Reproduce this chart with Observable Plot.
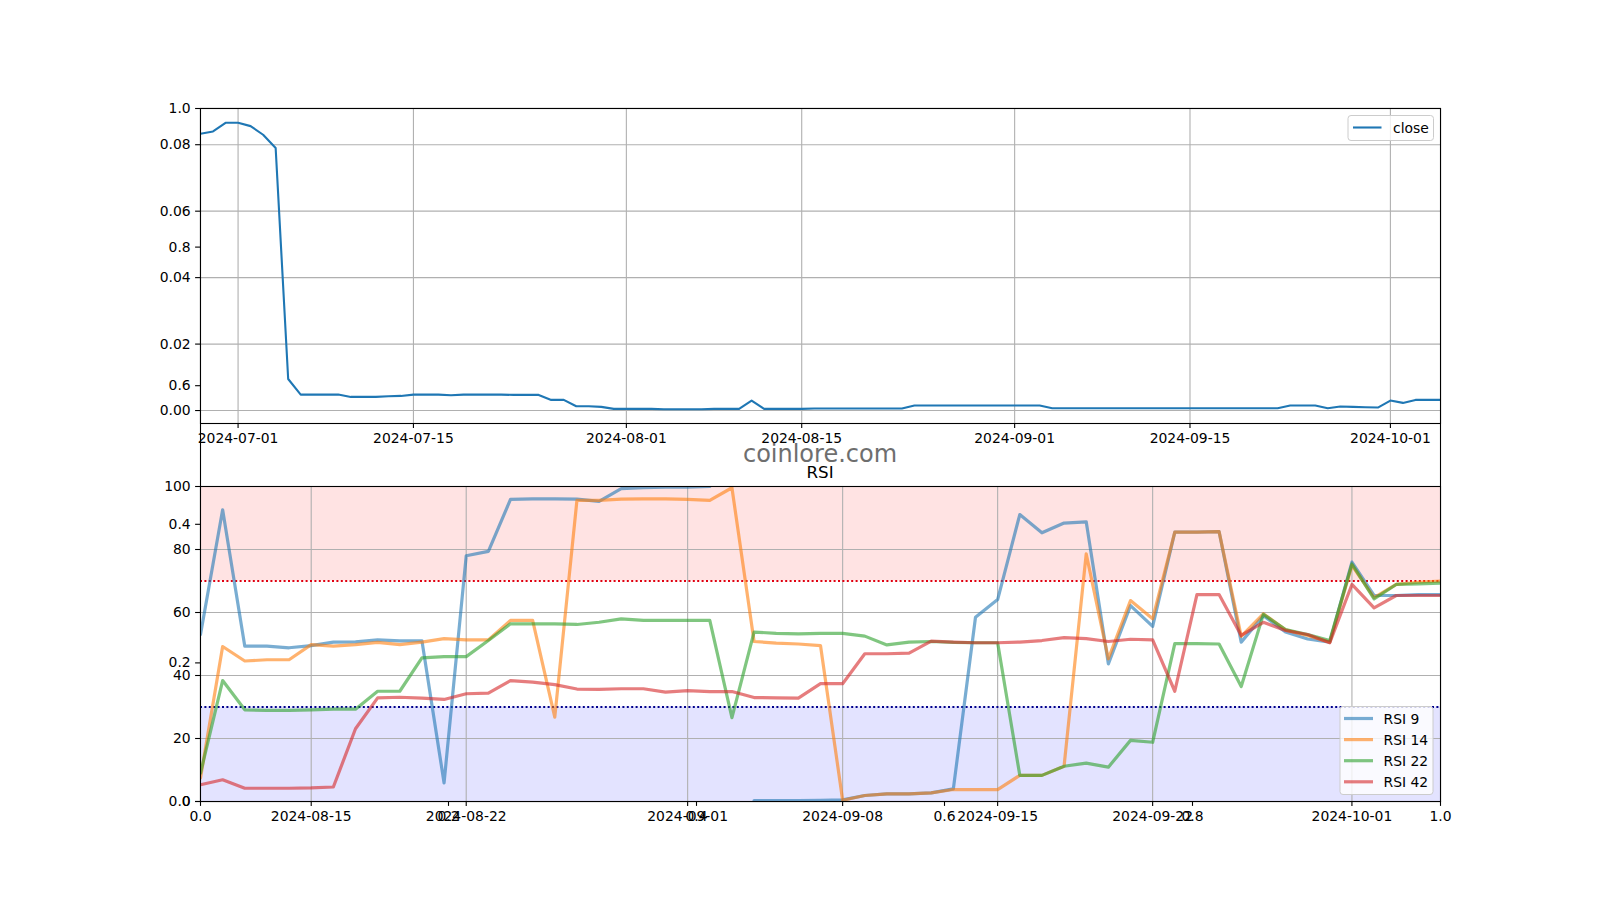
<!DOCTYPE html>
<html><head><meta charset="utf-8">
<script src="https://cdn.jsdelivr.net/npm/d3@7"></script>
<script src="https://cdn.jsdelivr.net/npm/@observablehq/plot@0.6"></script>
<style>
html,body{margin:0;padding:0;background:#fff;}
#chart{position:relative;width:1600px;height:900px;font-family:"DejaVu Sans",sans-serif;}
#chart svg{position:absolute;left:0;top:0;}
</style></head><body><div id="chart"></div>
<script>
// ---------- data ----------
const closeStart = "2024-06-28";
const closeValues = [
  0.0833,0.0840,0.0866,0.0866,0.0856,0.0830,0.0790,0.0095,0.0048,0.0048,
  0.0048,0.0048,0.0041,0.0041,0.0041,0.0043,0.0044,0.0048,0.0048,0.0048,
  0.0046,0.0048,0.0048,0.0048,0.0048,0.0047,0.0047,0.0047,0.0032,0.0032,
  0.0013,0.0013,0.0011,0.0005,0.0005,0.0005,0.0005,0.0004,0.0004,0.0004,
  0.0004,0.0005,0.0005,0.0005,0.0030,0.0005,0.0005,0.0005,0.0005,0.0006,
  0.0006,0.0006,0.0006,0.0006,0.0006,0.0006,0.0006,0.0015,0.0015,0.0015,
  0.0015,0.0015,0.0015,0.0015,0.0015,0.0015,0.0015,0.0015,0.0007,0.0007,
  0.0007,0.0007,0.0007,0.0007,0.0007,0.0007,0.0007,0.0007,0.0007,0.0007,
  0.0007,0.0007,0.0007,0.0007,0.0007,0.0007,0.0007,0.0015,0.0015,0.0015,
  0.0007,0.0012,0.0011,0.0010,0.0009,0.0030,0.0023,0.0032,0.0032,0.0032
];
const rsiStart = "2024-08-10";
const rsi9 = [
  53.0,92.6,49.3,49.3,48.8,49.5,50.6,50.7,51.3,51.0,
  51.0,5.9,78.0,79.4,95.9,96.1,96.1,96.0,95.3,99.3,
  99.6,99.8,99.8,100,null,0.3,0.3,0.3,0.4,0.5,
  1.9,2.4,2.4,2.75,4.0,58.5,64.1,91.1,85.3,88.4,
  88.8,43.7,62.2,55.6,85.5,85.5,85.7,50.6,59.0,53.8,
  51.6,50.6,76.0,65.4,65.4,65.7,65.7
];
const rsi14 = [
  7.5,49.2,44.6,45.0,45.0,49.8,49.3,49.8,50.5,49.8,
  50.6,51.7,51.3,51.3,57.5,57.5,26.8,95.6,95.6,96.0,
  96.1,96.1,95.9,95.6,99.6,50.8,50.3,50.0,49.5,0.4,
  1.9,2.4,2.4,2.75,3.8,3.8,3.8,8.3,8.3,11.2,
  78.6,45.3,63.8,58.0,85.5,85.5,85.7,52.4,59.6,54.5,
  52.7,50.6,75.0,64.7,68.9,69.6,70.0
];
const rsi22 = [
  9.0,38.4,29.1,28.9,28.9,29.1,29.3,29.3,35.0,35.0,
  45.6,46.0,46.0,51.1,56.4,56.4,56.4,56.2,56.9,58.0,
  57.5,57.5,57.5,57.5,26.6,53.8,53.4,53.2,53.4,53.4,
  52.5,49.7,50.6,50.8,50.5,50.4,50.4,8.3,8.3,11.2,
  12.2,10.9,19.4,18.8,50.1,50.1,50.0,36.5,59.4,54.6,
  53.0,51.1,75.4,64.3,68.9,69.1,69.3
];
const rsi42 = [
  5.3,6.9,4.2,4.2,4.2,4.3,4.6,23.1,32.9,33.1,
  32.8,32.4,34.2,34.4,38.4,37.9,37.1,35.7,35.6,35.8,
  35.8,34.7,35.2,34.9,34.9,33.0,32.9,32.8,37.4,37.4,
  46.9,46.9,47.1,50.9,50.6,50.4,50.4,50.6,51.1,52.0,
  51.7,50.8,51.5,51.3,35.0,65.7,65.7,52.7,56.9,54.3,
  53.0,50.4,68.9,61.5,65.4,65.4,65.4
];
const rsiNames = ["RSI 9","RSI 14","RSI 22","RSI 42"];
const rsiColors = ["#1f77b4","#ff7f0e","#2ca02c","#d62728"];
const overbought = 70, oversold = 30;
const topTickLabels = ["2024-07-01","2024-07-15","2024-08-01","2024-08-15","2024-09-01","2024-09-15","2024-10-01"];
const bottomTickLabels = ["2024-08-15","2024-08-22","2024-09-01","2024-09-08","2024-09-15","2024-09-22","2024-10-01"];
const priceTicks = [0,0.02,0.04,0.06,0.08];
const rsiTicks = [0,20,40,60,80,100];
const unitTicks = [0,0.2,0.4,0.6,0.8,1.0];
const topDomain = ["2024-06-28","2024-10-05"];
const bottomDomain = ["2024-08-10","2024-10-05"];
const priceDomain = [-0.0039,0.0909];

// ---------- helpers ----------
const D = s => new Date(s + "T00:00:00Z");
const dayAfter = (s,i) => new Date(D(s).getTime() + i*864e5);
const closeData = closeValues.map((v,i)=>({date:dayAfter(closeStart,i), close:v}));
const rsiSeries = [rsi9,rsi14,rsi22,rsi42].map(vals => vals.map((v,i)=>({date:dayAfter(rsiStart,i), v})));
const fmtDate = d3.utcFormat("%Y-%m-%d");
const W = 1600, H = 900;
const ML = 200, MR = 160;
const style = {fontFamily:"DejaVu Sans", fontSize:"13.9px", background:"transparent", overflow:"visible", color:"black"};
const grid = {stroke:"#b0b0b0", strokeOpacity:1, strokeWidth:1.1};
const tick = {tickSize:4.9, tickPadding:4.9, strokeWidth:1.1, label:null};
const chart = document.getElementById("chart");

// ---------- figure-level 0..1 axes (behind) ----------
const unitPlot = Plot.plot({
  width:W, height:H, marginLeft:ML, marginRight:MR, marginTop:108, marginBottom:99,
  style, x:{domain:[0,1]}, y:{domain:[0,1]},
  marks:[
    Plot.frame({stroke:"black", strokeWidth:1.1}),
    Plot.axisX({ticks:unitTicks, tickFormat:d3.format(".1f"), ...tick}),
    Plot.axisY({ticks:unitTicks, tickFormat:d3.format(".1f"), ...tick})
  ]
});
chart.appendChild(unitPlot);

// ---------- price panel ----------
const topPlot = Plot.plot({
  width:W, height:H, marginLeft:ML, marginRight:MR, marginTop:108, marginBottom:477,
  style,
  x:{type:"utc", domain:topDomain.map(D)},
  y:{domain:priceDomain},
  marks:[
    Plot.frame({fill:"white", stroke:"none"}),
    Plot.gridX(topTickLabels.map(D), grid),
    Plot.gridY(priceTicks, grid),
    Plot.line(closeData, {x:"date", y:"close", stroke:"#1f77b4", strokeWidth:2.1, clip:true}),
    Plot.frame({stroke:"black", strokeWidth:1.1}),
    Plot.axisX({ticks:topTickLabels.map(D), tickFormat:fmtDate, ...tick}),
    Plot.axisY({ticks:priceTicks, tickFormat:d3.format(".2f"), ...tick})
  ]
});
chart.appendChild(topPlot);

// ---------- RSI panel ----------
const bd = bottomDomain.map(D);
const zones = [{lo:overbought, hi:100, c:"red"},{lo:0, hi:oversold, c:"blue"}];
const bottomPlot = Plot.plot({
  width:W, height:H, marginLeft:ML, marginRight:MR, marginTop:486, marginBottom:99,
  style,
  x:{type:"utc", domain:bd},
  y:{domain:[0,100]},
  marks:[
    Plot.frame({fill:"white", stroke:"none"}),
    Plot.rect(zones, {x1:()=>bd[0], x2:()=>bd[1], y1:"lo", y2:"hi", fill:"c", fillOpacity:0.11}),
    Plot.gridX(bottomTickLabels.map(D), grid),
    Plot.gridY(rsiTicks, grid),
    Plot.ruleY([overbought], {stroke:"#e00010", strokeWidth:2, strokeDasharray:"2,2.4"}),
    Plot.ruleY([oversold], {stroke:"darkblue", strokeWidth:2, strokeDasharray:"2,2.4"}),
    ...rsiSeries.map((s,k)=>Plot.line(s, {x:"date", y:"v", stroke:rsiColors[k], strokeOpacity:0.6, strokeWidth:3.2, clip:true})),
    Plot.frame({stroke:"black", strokeWidth:1.1}),
    Plot.axisX({ticks:bottomTickLabels.map(D), tickFormat:fmtDate, ...tick}),
    Plot.axisY({ticks:rsiTicks, tickFormat:d3.format("d"), ...tick})
  ]
});
chart.appendChild(bottomPlot);

// ---------- titles, watermark, legends ----------
const svgB = d3.select(bottomPlot);
svgB.append("text").attr("x",(ML+W-MR)/2).attr("y",477.5).attr("text-anchor","middle")
  .attr("font-size","16.7px").attr("font-family","DejaVu Sans").attr("fill","black").text("RSI");
svgB.append("text").attr("x",(ML+W-MR)/2).attr("y",462).attr("text-anchor","middle")
  .attr("font-size","24px").attr("font-family","DejaVu Sans").attr("fill","#6e6e6e").text("coinlore.com");

// price legend
const svgT = d3.select(topPlot);
const lgT = svgT.append("g").attr("text-anchor","start");
lgT.append("rect").attr("x",1348).attr("y",115.5).attr("width",85.5).attr("height",25).attr("rx",3)
  .attr("fill","white").attr("fill-opacity",0.8).attr("stroke","#cccccc");
lgT.append("line").attr("x1",1353).attr("x2",1381.5).attr("y1",127.5).attr("y2",127.5)
  .attr("stroke","#1f77b4").attr("stroke-width",2.1);
lgT.append("text").attr("x",1393).attr("y",127.5).attr("dy","0.36em").attr("font-size","13.9px")
  .attr("text-anchor","start").attr("font-family","DejaVu Sans").text("close");

// RSI legend
const lgB = svgB.append("g").attr("text-anchor","start");
lgB.append("rect").attr("x",1340).attr("y",706.5).attr("width",93).attr("height",88).attr("rx",3)
  .attr("fill","white").attr("fill-opacity",0.8).attr("stroke","#cccccc");
rsiNames.forEach((n,k)=>{
  const y = 718.5 + k*21.1;
  lgB.append("line").attr("x1",1344).attr("x2",1373).attr("y1",y).attr("y2",y)
    .attr("stroke",rsiColors[k]).attr("stroke-opacity",0.6).attr("stroke-width",3.2);
  lgB.append("text").attr("x",1383.5).attr("y",y).attr("dy","0.36em").attr("font-size","13.9px")
    .attr("text-anchor","start").attr("font-family","DejaVu Sans").text(n);
});
</script></body></html>
